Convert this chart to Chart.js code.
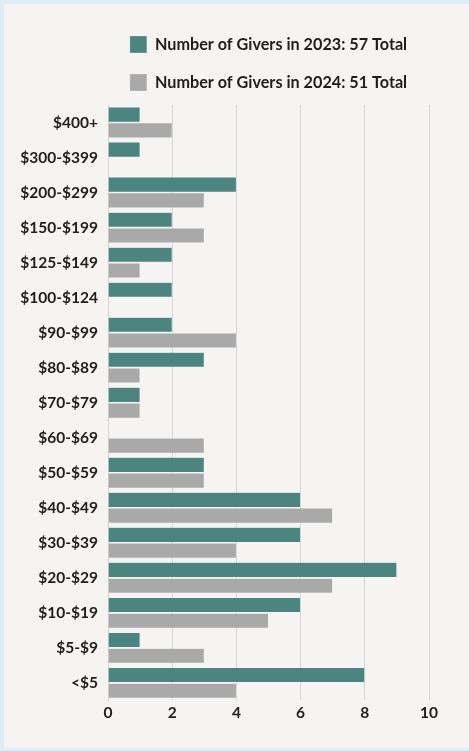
<!DOCTYPE html>
<html>
<head>
<meta charset="utf-8">
<script src="https://cdn.jsdelivr.net/npm/chart.js@4.4.0/dist/chart.umd.min.js"></script>
<style>
  html, body { margin: 0; padding: 0; background: #deedf1; }
  #card {
    position: absolute; left: 4px; top: 4px; width: 465px; height: 744px;
    background: #f5f4f2;
  }
  canvas { display: block; }
</style>
</head>
<body>
<div id="card"><canvas id="giversChart" width="465" height="744"></canvas></div>
<script>
// Gift ranges, top to bottom
const ranges = ['$400+', '$300-$399', '$200-$299', '$150-$199', '$125-$149', '$100-$124',
  '$90-$99', '$80-$89', '$70-$79', '$60-$69', '$50-$59', '$40-$49', '$30-$39',
  '$20-$29', '$10-$19', '$5-$9', '<$5'];
const givers2023 = [1, 1, 4, 2, 2, 2, 2, 3, 1, 0, 3, 6, 6, 9, 6, 1, 8];
const givers2024 = [2, 0, 3, 3, 1, 0, 4, 1, 1, 3, 3, 7, 4, 7, 5, 3, 4];
const xTicks = [0, 2, 4, 6, 8, 10];

const labelFont = { family: 'Lato', size: 15.5, weight: 'bold' };

document.addEventListener('DOMContentLoaded', function() {
  new Chart(document.getElementById('giversChart'), {
    type: 'bar',
    data: {
      labels: ranges,
      datasets: [{
        label: 'Number of Givers in 2023: 57 Total',
        data: givers2023,
        backgroundColor: '#4c8580',
        borderColor: 'rgba(255,255,255,0.5)',
        borderWidth: 0.5,
        categoryPercentage: 0.9,
        barPercentage: 0.96
      }, {
        label: 'Number of Givers in 2024: 51 Total',
        data: givers2024,
        backgroundColor: '#a9a9a9',
        borderColor: 'rgba(255,255,255,0.5)',
        borderWidth: 0.5,
        categoryPercentage: 0.9,
        barPercentage: 0.96
      }]
    },
    options: {
      indexAxis: 'y',
      responsive: false,
      animation: false,
      layout: { padding: { left: 0, right: 40, top: 11, bottom: 23 } },
      plugins: {
        tooltip: { enabled: false },
        legend: {
          position: 'top',
          fullSize: false,
          labels: {
            boxWidth: 17,
            boxHeight: 17,
            padding: 21,
            color: '#1e1e1e',
            font: { family: 'Lato', size: 16.2, weight: 'bold' }
          }
        }
      },
      scales: {
        x: {
          min: 0,
          max: 10,
          afterBuildTicks: function(scale) {
            scale.ticks = xTicks.map(v => ({ value: v }));
          },
          grid: { color: '#d4d4d4', lineWidth: 1, drawTicks: false },
          border: { display: false },
          ticks: { color: '#1e1e1e', font: labelFont, padding: 3 }
        },
        y: {
          afterFit: function(scale) { scale.width = 104; },
          grid: { display: false, drawTicks: false },
          border: { display: true, color: '#d4d4d4' },
          ticks: { color: '#1e1e1e', font: labelFont, padding: 10 }
        }
      }
    },
    plugins: [{
      // small extra gap between the legend and the top of the bars
      id: 'legendGap',
      beforeInit: function(chart) {
        const fit = chart.legend.fit;
        chart.legend.fit = function() {
          fit.bind(chart.legend)();
          this.height += 4;
        };
      }
    }]
  });
});
</script>
</body>
</html>
